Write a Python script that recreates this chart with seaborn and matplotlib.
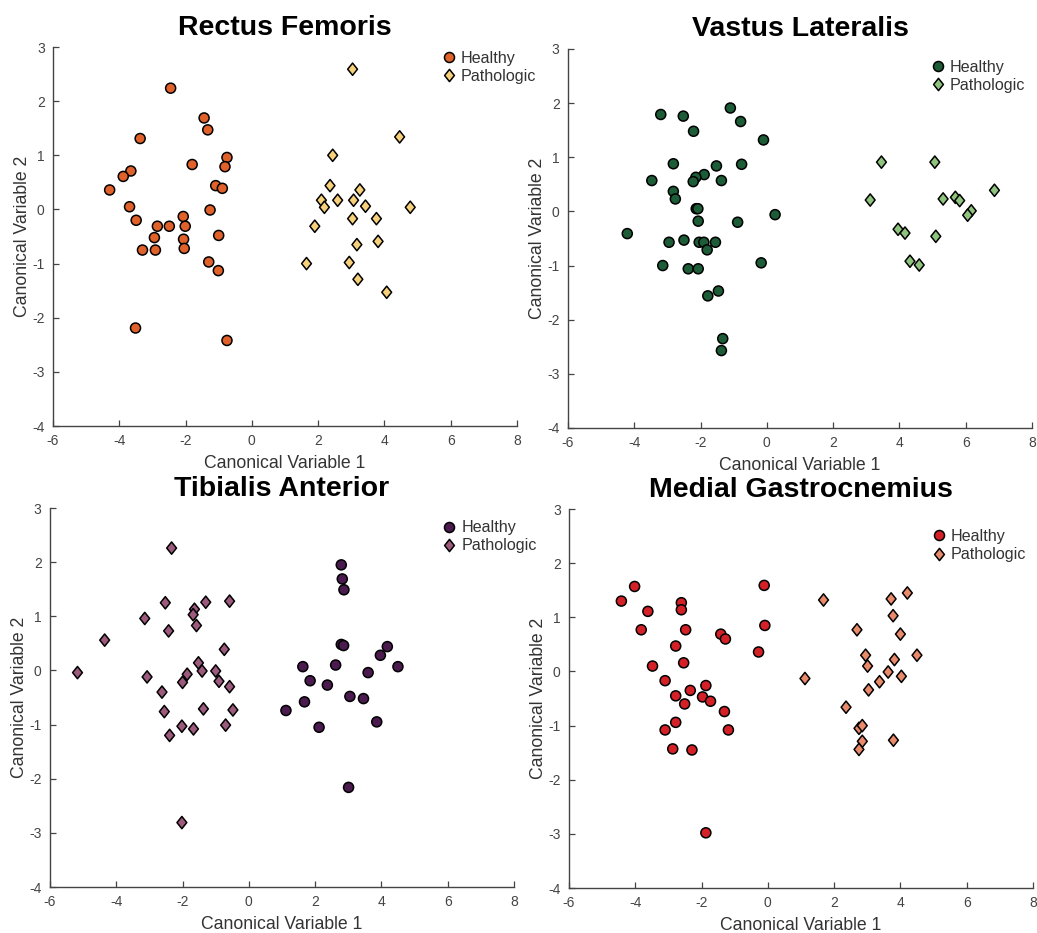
import numpy as np
import pandas as pd
import seaborn as sns
import matplotlib.pyplot as plt
from matplotlib.path import Path

# Rectus Femoris
rf_h_x = [-2.45, -1.44, -1.33, -3.37, -0.75, -1.80, -0.81, -3.65, -3.88, -4.29, -1.09, -0.89, -3.69, -1.26, -3.49,
          -2.07, -2.85, -2.49, -2.01, -2.94, -2.06, -1.00, -3.30, -2.91, -2.04, -1.30, -1.01, -3.51, -0.75]
rf_h_y = [2.24, 1.69, 1.47, 1.31, 0.96, 0.83, 0.79, 0.71, 0.61, 0.36, 0.44, 0.39, 0.05, -0.01, -0.20,
          -0.13, -0.31, -0.31, -0.31, -0.52, -0.55, -0.48, -0.75, -0.75, -0.72, -0.97, -1.13, -2.19, -2.42]
rf_p_x = [3.04, 4.46, 2.44, 2.36, 3.26, 2.10, 2.19, 2.59, 3.07, 3.43, 4.78, 1.90, 3.04, 3.76, 3.17, 3.81, 1.65, 2.94, 3.20, 4.07]
rf_p_y = [2.59, 1.34, 1.00, 0.44, 0.36, 0.17, 0.04, 0.17, 0.17, 0.06, 0.04, -0.31, -0.17, -0.17, -0.65, -0.59, -1.00, -0.98, -1.29, -1.53]

# Vastus Lateralis
vl_h_x = [-1.10, -3.20, -2.52, -0.79, -2.21, -0.10, -2.82, -0.76, -1.52, -1.89, -2.14, -2.22, -1.37, -3.47, -2.82, -2.76,
          -2.13, -2.08, 0.25, -4.21, -2.07, -0.88, -2.95, -2.50, -2.04, -1.90, -1.55, -1.80, -3.14, -2.37, -2.07, -0.17,
          -1.46, -1.78, -1.33, -1.37]
vl_h_y = [1.91, 1.79, 1.76, 1.66, 1.48, 1.32, 0.88, 0.87, 0.84, 0.68, 0.63, 0.55, 0.57, 0.57, 0.37, 0.23,
          0.05, 0.05, -0.06, -0.41, -0.18, -0.20, -0.57, -0.53, -0.57, -0.57, -0.57, -0.71, -1.00, -1.06, -1.06, -0.95,
          -1.47, -1.56, -2.35, -2.57]
vl_p_x = [3.46, 5.07, 6.87, 3.12, 5.32, 5.69, 5.82, 6.17, 6.06, 3.96, 4.17, 5.10, 4.32, 4.60]
vl_p_y = [0.91, 0.91, 0.39, 0.21, 0.23, 0.26, 0.20, 0.01, -0.07, -0.33, -0.40, -0.46, -0.92, -0.99]

# Tibialis Anterior
ta_h_x = [2.79, 2.82, 2.87, 2.79, 2.86, 4.18, 3.97, 4.50, 1.63, 2.62, 3.60, 1.85, 2.37, 3.05, 3.46, 1.68, 1.12, 2.12, 3.86, 3.01]
ta_h_y = [1.95, 1.69, 1.49, 0.48, 0.46, 0.44, 0.28, 0.07, 0.07, 0.10, -0.04, -0.19, -0.27, -0.48, -0.52, -0.58, -0.74, -1.05, -0.95, -2.16]
ta_p_x = [-2.33, -2.52, -1.30, -0.58, -3.14, -1.64, -1.68, -1.58, -2.42, -4.35, -0.74, -5.17, -1.52, -1.41, -1.00,
          -1.86, -2.00, -0.90, -3.07, -0.58, -2.62, -2.55, -1.37, -0.48, -2.02, -1.67, -0.70, -2.39, -2.02]
ta_p_y = [2.26, 1.25, 1.26, 1.28, 0.96, 1.13, 1.03, 0.83, 0.73, 0.56, 0.39, -0.04, 0.14, -0.01, -0.01,
          -0.07, -0.22, -0.20, -0.12, -0.30, -0.40, -0.76, -0.71, -0.73, -1.03, -1.08, -1.01, -1.20, -2.81]

# Medial Gastrocnemius
mg_h_x = [-4.02, -4.42, -0.11, -2.61, -2.61, -3.62, -3.82, -2.48, -0.09, -1.42, -1.28, -2.78, -0.28, -2.54, -3.48,
          -3.10, -1.87, -2.34, -2.78, -1.97, -1.73, -2.51, -1.31, -2.78, -3.10, -1.19, -2.87, -2.29, -1.87]
mg_h_y = [1.57, 1.30, 1.59, 1.27, 1.14, 1.11, 0.77, 0.77, 0.85, 0.69, 0.60, 0.47, 0.36, 0.16, 0.10,
          -0.17, -0.26, -0.35, -0.45, -0.47, -0.55, -0.60, -0.74, -0.94, -1.08, -1.08, -1.43, -1.45, -2.98]
mg_p_x = [1.68, 4.21, 3.72, 3.78, 2.69, 4.00, 2.95, 4.50, 3.82, 3.01, 3.63, 1.12, 4.03, 3.37, 3.04, 2.36, 2.75, 2.85, 2.85, 3.79, 2.75]
mg_p_y = [1.32, 1.45, 1.34, 1.03, 0.77, 0.69, 0.30, 0.30, 0.22, 0.10, -0.01, -0.13, -0.09, -0.19, -0.34, -0.66, -1.05, -1.00, -1.29, -1.27, -1.44]

panels = [
    ("Rectus Femoris", rf_h_x, rf_h_y, rf_p_x, rf_p_y, "#E0622A", "#F6D07A"),
    ("Vastus Lateralis", vl_h_x, vl_h_y, vl_p_x, vl_p_y, "#1C5C36", "#8FC47E"),
    ("Tibialis Anterior", ta_h_x, ta_h_y, ta_p_x, ta_p_y, "#4B1B50", "#9C5A7C"),
    ("Medial Gastrocnemius", mg_h_x, mg_h_y, mg_p_x, mg_p_y, "#D42128", "#E98A6A"),
]

# axes rectangles (fig fraction) and legend anchors (axes fraction)
rects = [[0.0511, 0.5434, 0.4474, 0.4062], [0.5477, 0.5413, 0.4474, 0.4062],
         [0.0482, 0.0493, 0.4474, 0.4062], [0.5487, 0.0482, 0.4474, 0.4062]]
leg_pos = [(0.836, 0.99), (0.78, 0.972), (0.843, 0.968), (0.78, 0.947)]

diamond = Path([(0, 1), (0.8, 0), (0, -1), (-0.8, 0), (0, 1)],
               [Path.MOVETO, Path.LINETO, Path.LINETO, Path.LINETO, Path.CLOSEPOLY])

sns.set_style("white")
plt.rcParams['font.family'] = ['Liberation Sans', 'DejaVu Sans']
plt.rcParams['axes.unicode_minus'] = False

fig = plt.figure(figsize=(10.37, 9.33), dpi=100)

for i, (title, hx, hy, px, py, ch, cp) in enumerate(panels):
    ax = fig.add_axes(rects[i])
    df = pd.DataFrame({
        "x": hx + px,
        "y": hy + py,
        "group": ["Healthy"] * len(hx) + ["Pathologic"] * len(px),
    })
    sns.scatterplot(data=df, x="x", y="y", hue="group", style="group", size="group",
                    palette={"Healthy": ch, "Pathologic": cp},
                    markers={"Healthy": "o", "Pathologic": diamond},
                    sizes={"Healthy": 52, "Pathologic": 78},
                    edgecolor="black", linewidth=1.1, ax=ax)
    ax.set_xlim(-6, 8)
    ax.set_ylim(-4, 3)
    ax.set_xticks(range(-6, 9, 2))
    ax.set_yticks(range(-4, 4, 1))
    ax.tick_params(direction="in", length=4, width=0.9, colors="#444444", pad=6,
                   labelsize=10, labelcolor="#444444", bottom=True, left=True)
    for side in ["top", "right"]:
        ax.spines[side].set_visible(False)
    for side in ["left", "bottom"]:
        ax.spines[side].set_color("#444444")
        ax.spines[side].set_linewidth(1.0)
    ax.set_xlabel("Canonical Variable 1", fontsize=12.7, color="#333333", labelpad=5)
    ax.set_ylabel("Canonical Variable 2", fontsize=12.7, color="#333333", labelpad=1)
    ax.set_title(title, fontsize=20.5, fontweight="bold", color="black", pad=9)
    leg = ax.legend(loc="upper left", bbox_to_anchor=leg_pos[i], frameon=False,
                    fontsize=11.6, handletextpad=0.25, borderaxespad=0,
                    labelspacing=0.2, handlelength=1.0, borderpad=0)
    for t in leg.get_texts():
        t.set_color("#333333")

fig.savefig("out.png", dpi=100)
